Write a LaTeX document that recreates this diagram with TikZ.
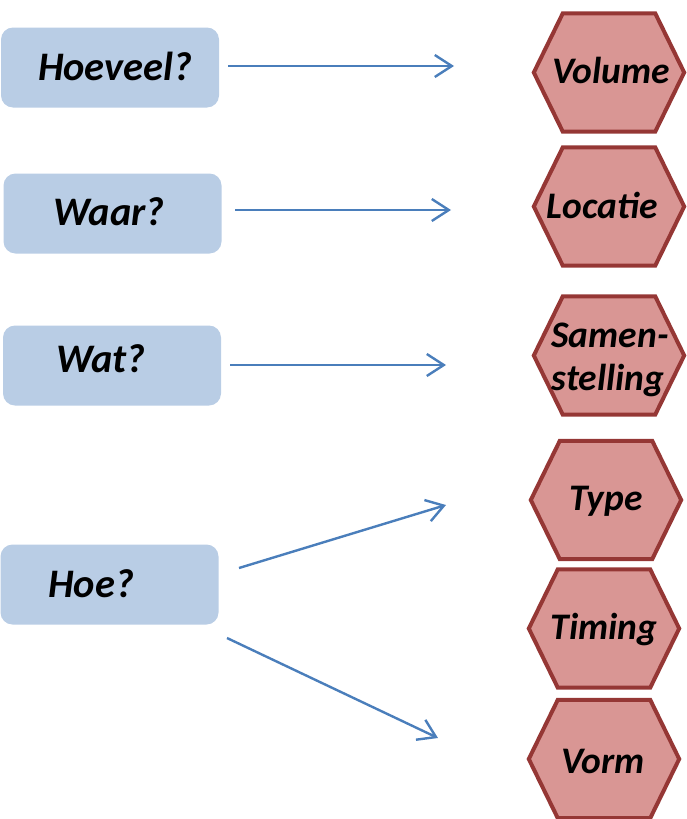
\documentclass[tikz,border=0pt]{standalone}
\usepackage{fontspec}
\setmainfont{Carlito}
\usetikzlibrary{arrows.meta}
\definecolor{boxfill}{HTML}{B9CDE5}
\definecolor{hexfill}{HTML}{D99694}
\definecolor{hexline}{HTML}{953735}
\definecolor{arrowcol}{HTML}{4A7EBB}
\tikzset{
  qbox/.style={fill=boxfill, draw=none, rounded corners=12pt, minimum width=218pt, minimum height=80pt, inner sep=0pt},
  qtext/.style={anchor=base, font=\fontsize{40.5}{44}\selectfont\bfseries\itshape, inner sep=0pt},
  htext/.style={anchor=base, font=\fontsize{37.5}{42}\selectfont\bfseries\itshape, inner sep=0pt},
  hexbox/.style={minimum width=150pt, minimum height=118pt, inner sep=0pt, draw=none},
  hexshape/.style={fill=hexfill, draw=hexline, line width=4pt, line join=miter},
  conn/.style={draw=arrowcol, line width=2.4pt, -{Straight Barb[length=17pt,width=22pt,line width=2.4pt]}}
}
\newcommand\hexpath[1]{%
  \path[hexshape] (#1.west) -- ([xshift=29pt]#1.north west) -- ([xshift=-29pt]#1.north east)
    -- (#1.east) -- ([xshift=-29pt]#1.south east) -- ([xshift=29pt]#1.south west) -- cycle;}
\begin{document}
\begin{tikzpicture}[x=1pt,y=-1pt]
\useasboundingbox (0,0) rectangle (686,819);
% question boxes
\node[qbox] (b1) at (110,67.5) {};
\node[qbox] (b2) at (112.5,213.5) {};
\node[qbox] (b3) at (112,365.5) {};
\node[qbox] (b4) at (109.5,584.5) {};
\node[qtext] (t1) at (115,80) {Hoeveel?};
\node[qtext] (t2) at (109,225) {Waar?};
\node[qtext] (t3) at (101,372) {Wat?};
\node[qtext] (t4) at (91,597) {Hoe?};
% hexagons
\node[hexbox] (h1) at (609,72.5) {};
\node[hexbox] (h2) at (609,206.5) {};
\node[hexbox] (h3) at (609,355.5) {};
\node[hexbox] (h4) at (606,500) {};
\node[hexbox] (h5) at (604,628.5) {};
\node[hexbox] (h6) at (604,759) {};
\hexpath{h1}\hexpath{h2}\hexpath{h3}\hexpath{h4}\hexpath{h5}\hexpath{h6}
\node[htext] (v1) at (611,83) {Volume};
\node[htext] (v2) at (602,218) {Locatie};
\node[htext] (v3a) at (610,347) {Samen-};
\node[htext] (v3b) at (608,390) {stelling};
\node[htext] (v4) at (606,510) {Type};
\node[htext] (v5) at (604,639) {Timing};
\node[htext] (v6) at (603,773) {Vorm};
% connector ends
\coordinate (s1) at (228,66);   \coordinate (e1) at (454,66);
\coordinate (s2) at (235,210);  \coordinate (e2) at (451,210);
\coordinate (s3) at (230,365);  \coordinate (e3) at (446,365);
\coordinate (s4) at (239,568);  \coordinate (e4) at (446,505);
\coordinate (s5) at (227,638);  \coordinate (e5) at (438,738);
\draw[conn] (s1) -- (e1);
\draw[conn] (s2) -- (e2);
\draw[conn] (s3) -- (e3);
\draw[conn] (s4) -- (e4);
\draw[conn] (s5) -- (e5);
\end{tikzpicture}
\end{document}
